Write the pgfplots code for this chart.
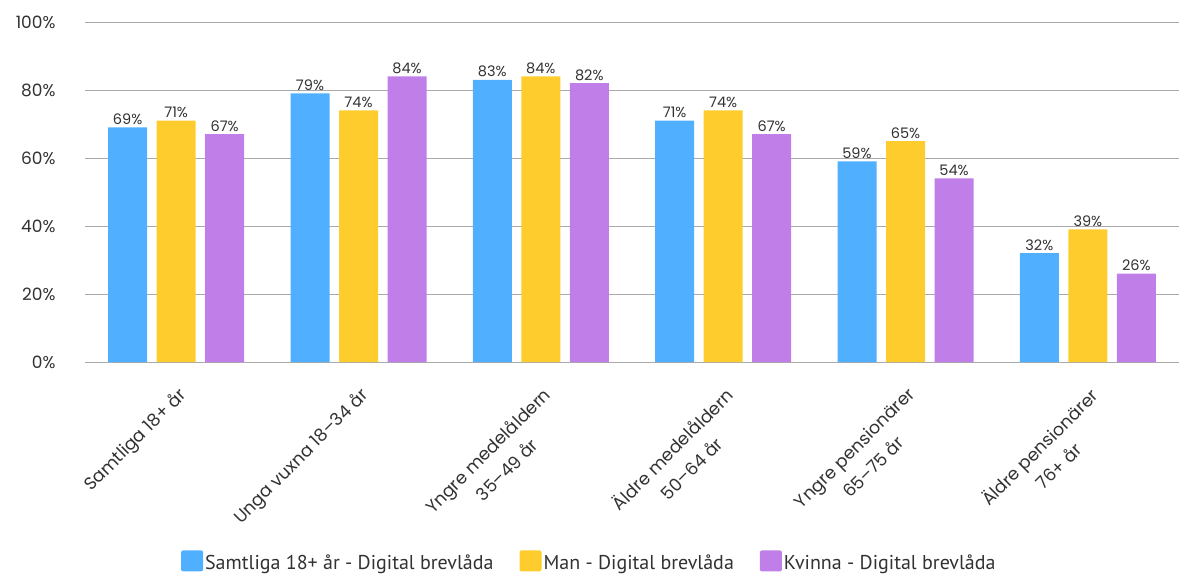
\documentclass[border=0pt]{standalone}
\usepackage{pgfplots}
\pgfplotsset{compat=1.18}
\usepackage{fontspec}
\setmainfont{Poppins}
\newfontfamily\legfont{PT Sans}

\definecolor{cblue}{RGB}{80,176,255}
\definecolor{cyellow}{RGB}{255,204,46}
\definecolor{cpurple}{RGB}{192,126,232}
\definecolor{txt}{RGB}{50,50,50}
\definecolor{gridc}{RGB}{170,170,170}

\begin{document}
\begin{tikzpicture}
\begin{axis}[
  name=ax,
  scale only axis=true,
  width=1094pt, height=340pt,
  ybar=9.5pt,
  bar width=39pt,
  xmin=-0.5, xmax=5.5,
  ymin=0, ymax=100,
  xtick={0,...,5},
  xticklabels={{Samtliga 18+ år},{Unga vuxna 18–34 år},{Yngre medelåldern\\[5pt]35–49 år},{Äldre medelåldern\\[5pt]50–64 år},{Yngre pensionärer\\[5pt]65–75 år},{Äldre pensionärer\\[5pt]76+ år}},
  xticklabel style={rotate=45, anchor=north east, align=center,
    font=\fontsize{17.5}{22}\selectfont,
    text=txt, yshift=-14pt, xshift=-13pt},
  ytick={0,20,...,100},
  yticklabel={\pgfmathprintnumber{\tick}\%},
  /pgf/number format/assume math mode=true,
  yticklabel style={font=\fontsize{17}{20}\selectfont, text=txt, xshift=-26pt},
  major tick length=0pt,
  axis line style={draw=none},
  ymajorgrids=true,
  grid style={gridc, line width=0.8pt},
  nodes near coords={\pgfmathprintnumber{\pgfplotspointmeta}\%},
  every node near coord/.append style={font=\fontsize{14.5}{16}\selectfont, text=txt, yshift=-1pt},
  legend columns=3,
  legend style={at={(0.461,-0.588)}, anchor=center, draw=none, font=\legfont\fontsize{20}{22}\selectfont, text=txt,
    inner sep=0pt, /tikz/every even column/.append style={column sep=24pt}},
  legend image code/.code={\fill[#1, rounded corners=2pt] (0pt,-8pt) rectangle (22pt,13pt);},
]
\addplot[fill=cblue, draw=none] coordinates {(0,69) (1,79) (2,83) (3,71) (4,59) (5,32)};
\addplot[fill=cyellow, draw=none] coordinates {(0,71) (1,74) (2,84) (3,74) (4,65) (5,39)};
\addplot[fill=cpurple, draw=none] coordinates {(0,67) (1,84) (2,82) (3,67) (4,54) (5,26)};
\legend{Samtliga 18+ år - Digital brevlåda, Man - Digital brevlåda, Kvinna - Digital brevlåda}
\end{axis}
\pgfresetboundingbox
\path[use as bounding box] ([shift={(-85pt,-214pt)}]ax.south west) rectangle ([shift={(0pt,22pt)}]ax.north east);
\end{tikzpicture}
\end{document}
